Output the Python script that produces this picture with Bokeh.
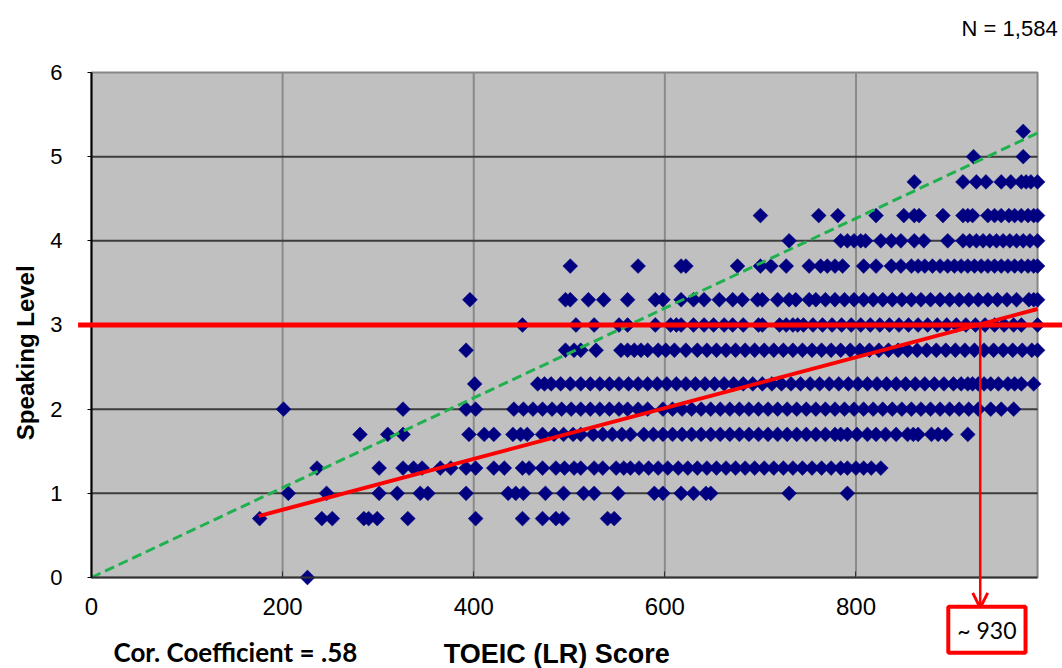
from math import pi
from bokeh.plotting import figure
from bokeh.models import Range1d, FixedTicker, Label, Arrow, OpenHead
from bokeh.embed import file_html
from bokeh.resources import INLINE

# ---- data: TOEIC (LR) score of each visible marker, grouped by speaking level ----
lvl_00 = [226]
lvl_07 = [176, 241, 252, 285, 290, 299, 331, 402, 451, 472, 486, 493, 540, 547]
lvl_10 = [206, 246, 301, 320, 344, 352, 392, 436, 444, 452, 475, 494, 515, 526, 551,
          589, 598, 617, 630, 643, 648, 730, 791]
lvl_13 = [236, 301, 326, 337, 346, 365, 376, 392, 402, 421, 432, 451, 458, 472, 486, 495,
          505, 512, 526, 535, 549, 557, 564, 573, 583, 593, 603, 614, 624, 634, 644, 654,
          664, 674, 684, 694, 704, 714, 724, 734, 744, 754, 764, 774, 784, 791, 800, 808,
          816, 826]
lvl_17 = [281, 310, 326, 395, 411, 421, 441, 449, 456, 472, 484, 494, 504, 512, 525, 535,
          545, 555, 564, 578, 588, 598, 608, 618, 628, 638, 648, 658, 668, 678, 688, 698,
          708, 718, 728, 738, 748, 758, 768, 778, 784, 791, 801, 812, 821, 831, 842, 854,
          860, 865, 879, 886, 894, 917]
lvl_20 = [201, 326, 392, 402, 442, 452, 462, 472, 482, 492, 502, 512, 522, 532, 542, 552,
          561, 572, 582, 598, 608, 618, 628, 638, 648, 658, 668, 678, 688, 698, 708, 718,
          728, 738, 748, 758, 768, 778, 788, 798, 808, 818, 828, 838, 848, 858, 868, 878,
          888, 898, 908, 918, 928, 941, 952, 965]
lvl_23 = [401, 467, 474, 481, 491, 501, 512, 522, 532, 542, 552, 562, 572, 582, 592, 602,
          612, 622, 632, 642, 652, 662, 672, 682, 692, 702, 712, 722, 732, 742, 752, 762,
          772, 782, 792, 802, 812, 822, 832, 842, 852, 862, 872, 882, 892, 902, 910, 917,
          922, 928, 934, 941, 949, 959, 966, 973, 986]
lvl_27 = [392, 496, 505, 512, 528, 554, 561, 568, 575, 582, 593, 601, 610, 622, 634, 644,
          654, 664, 674, 684, 694, 704, 714, 724, 734, 744, 754, 764, 774, 784, 794, 804,
          814, 824, 834, 844, 854, 864, 874, 884, 894, 904, 914, 924, 934, 944, 954, 964,
          974, 984, 990]
lvl_30 = [451, 507, 526, 552, 561, 590, 606, 612, 617, 630, 641, 651, 662, 671, 682, 698,
          702, 720, 727, 734, 739, 745, 755, 765, 775, 785, 795, 805, 815, 825, 835, 845,
          855, 865, 875, 885, 895, 905, 915, 925, 935, 945, 955, 965, 973, 990]
lvl_33 = [396, 496, 501, 520, 536, 561, 590, 598, 617, 630, 641, 657, 671, 681, 697, 702,
          718, 730, 737, 751, 758, 768, 778, 788, 798, 808, 818, 828, 838, 848, 858, 868,
          878, 888, 898, 908, 918, 928, 938, 948, 958, 968, 981, 986, 990]
lvl_37 = [501, 572, 617, 622, 676, 700, 711, 727, 751, 763, 770, 778, 786, 808, 821, 837,
          847, 858, 865, 872, 880, 888, 896, 903, 910, 917, 924, 931, 938, 945, 952, 959,
          966, 973, 980, 986, 990]
lvl_40 = [730, 784, 791, 798, 805, 810, 826, 837, 847, 861, 871, 896, 912, 919, 926, 933,
          940, 947, 954, 961, 968, 975, 982, 990]
lvl_43 = [700, 761, 781, 821, 850, 861, 866, 891, 912, 917, 922, 938, 945, 952, 960, 966,
          973, 980, 986, 990]
lvl_47 = [861, 912, 926, 936, 952, 962, 973, 978, 983, 990]
lvl_50 = [923, 975]
lvl_53 = [975]

levels = [0.0, 0.7, 1.0, 1.3, 1.7, 2.0, 2.3, 2.7, 3.0, 3.3, 3.7, 4.0, 4.3, 4.7, 5.0, 5.3]
rows = [lvl_00, lvl_07, lvl_10, lvl_13, lvl_17, lvl_20, lvl_23, lvl_27, lvl_30, lvl_33,
        lvl_37, lvl_40, lvl_43, lvl_47, lvl_50, lvl_53]

# reference lines
diag_x = [0, 990]
diag_y = [0, 5.28]
reg_x = [175, 990]
reg_y = [0.73, 3.19]
target_level = 3.0
threshold_score = 930

# axis extents and ticks
x_min, x_max = 0, 990
y_min, y_max = 0, 6
x_ticks = [0, 200, 400, 600, 800]
y_ticks = [0, 1, 2, 3, 4, 5, 6]
x_grid = [200, 400, 600, 800]
y_grid = [1, 2, 3, 4, 5]

xs, ys = [], []
for lv, row in zip(levels, rows):
    xs += row
    ys += [lv] * len(row)

# the frame fills the whole canvas; the grey plot area is drawn inside it
p = figure(width=1062, height=668, output_backend="svg", toolbar_location=None,
           title=None, x_range=Range1d(-95.2, 1016.1), y_range=Range1d(-1.081, 6.855),
           min_border=0, min_border_left=0, min_border_right=0, min_border_top=0,
           min_border_bottom=0)
p.outline_line_color = None
p.background_fill_color = "white"
p.border_fill_color = "white"
p.grid.visible = False

# grey plot area
p.quad(left=[x_min], right=[x_max], bottom=[y_min], top=[y_max],
       fill_color="#c0c0c0", line_color="#868686", line_width=2)
# grid lines
p.segment(x0=x_grid, y0=[y_min] * len(x_grid), x1=x_grid, y1=[y_max] * len(x_grid),
          line_color="#8a8a8a", line_width=2)
p.segment(x0=[x_min] * len(y_grid), y0=y_grid, x1=[x_max] * len(y_grid), y1=y_grid,
          line_color="#3c3c3c", line_width=2)

# axes placed at the data origin
p.xaxis.fixed_location = 0
p.yaxis.fixed_location = 0
p.xaxis.bounds = (x_min, x_max)
p.yaxis.bounds = (y_min, y_max)
p.xaxis.ticker = FixedTicker(ticks=x_ticks)
p.yaxis.ticker = FixedTicker(ticks=y_ticks)
p.xaxis.axis_line_color = "#333333"
p.xaxis.axis_line_width = 2
p.yaxis.axis_line_color = "black"
p.yaxis.axis_line_width = 2
p.xaxis.major_tick_in = 6
p.xaxis.major_tick_out = 0
p.xaxis.major_tick_line_color = "#333333"
p.yaxis.major_tick_in = 0
p.yaxis.major_tick_out = 4
p.yaxis.major_tick_line_color = "black"
p.xaxis.minor_tick_line_color = None
p.yaxis.minor_tick_line_color = None
p.xaxis.major_label_text_font = "Liberation Sans"
p.yaxis.major_label_text_font = "Liberation Sans"
p.xaxis.major_label_text_font_size = "24px"
p.yaxis.major_label_text_font_size = "22px"
p.xaxis.major_label_text_color = "black"
p.yaxis.major_label_text_color = "black"
p.xaxis.major_label_standoff = 20
p.yaxis.major_label_standoff = 25

# markers
p.scatter(xs, ys, marker="square", size=10.5, angle=pi / 4, fill_color="#000080",
          line_color="#000080", line_width=0.5)

# lines
p.line(diag_x, diag_y, line_color="#1fb14f", line_width=3, line_dash="10 5")
p.line(reg_x, reg_y, line_color="#ff0000", line_width=4)

p.add_layout(Arrow(end=None, x_start=-14, y_start=target_level, x_end=1016,
                   y_end=target_level, line_color="#ff0000", line_width=5))
p.add_layout(Arrow(end=OpenHead(size=15, line_color="#ff0000", line_width=3),
                   x_start=threshold_score, y_start=target_level,
                   x_end=threshold_score, y_end=-0.36,
                   line_color="#ff0000", line_width=2.5))

# texts
p.add_layout(Label(x=937, y=-0.62, text="~ 930", text_align="center",
                   text_baseline="middle", text_font="Lato", text_font_size="23px",
                   text_color="black", border_line_color="#ff0000",
                   border_line_width=4, background_fill_color="white", padding=9))
p.add_layout(Label(x=1011, y=6.52, text="N = 1,584", text_align="right",
                   text_baseline="middle", text_font="Liberation Sans",
                   text_font_size="22px", text_color="black"))
p.add_layout(Label(x=23, y=-0.89, text="Cor. Coefficient = .58", text_align="left",
                   text_baseline="middle", text_font="Lato", text_font_style="bold",
                   text_font_size="26px", text_color="black"))
p.add_layout(Label(x=487, y=-0.903, text="TOEIC (LR) Score", text_align="center",
                   text_baseline="alphabetic", text_font="Liberation Sans",
                   text_font_style="bold", text_font_size="27px", text_color="black"))
p.add_layout(Label(x=-69, y=2.67, text="Speaking Level", angle=pi / 2,
                   text_align="center", text_baseline="middle",
                   text_font="Liberation Sans", text_font_style="bold",
                   text_font_size="24px", text_color="black"))

open("out.html", "w").write(file_html(p, INLINE))
